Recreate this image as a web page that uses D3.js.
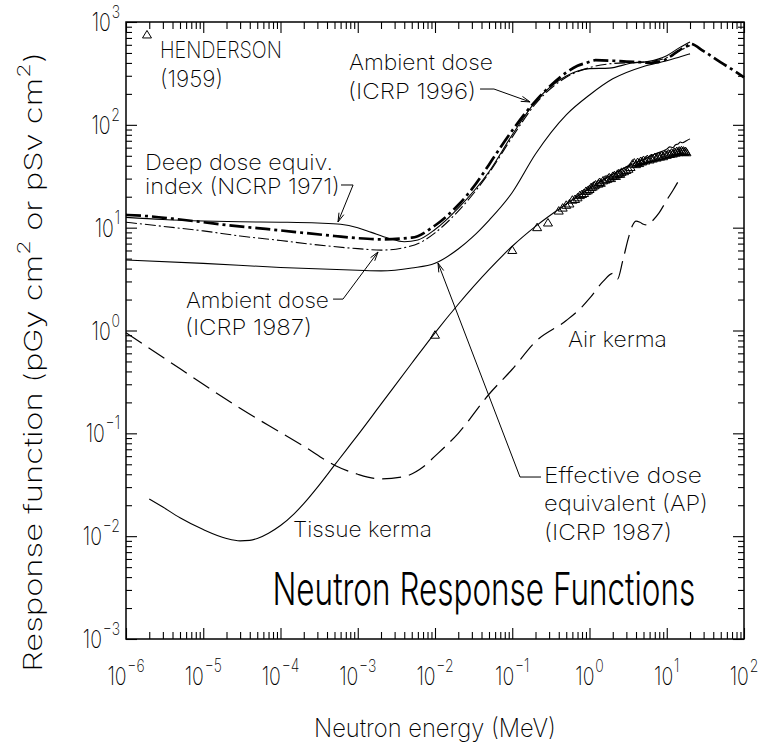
<!DOCTYPE html>
<html><head><meta charset="utf-8">
<script src="https://cdn.jsdelivr.net/npm/d3@7"></script>
<style>
body{margin:0;background:#fff}
svg{display:block}
text{font-family:Inter,Roboto,"DejaVu Sans",sans-serif;font-weight:200;fill:#000}
</style>
</head><body>
<svg id="c" width="761" height="748"></svg>
<script>
// ---------- data ----------
const xDecades = [-6,-5,-4,-3,-2,-1,0,1,2];
const yDecades = [-3,-2,-1,0,1,2,3];
const minorSteps = [2,3,4,5,6,7,8,9];
const xTickExp = ["\u22126","\u22125","\u22124","\u22123","\u22122","\u22121","0","1","2"];
const yTickExp = ["\u22123","\u22122","\u22121","0","1","2","3"];

// Ambient dose (ICRP 1996) [MeV, pSv cm2]
const ambient1996 = [[1e-6,13.3],[2e-6,12.9],[5e-6,12.0],[1e-5,11.3],[2e-5,10.6],[5e-5,9.9],[1e-4,9.4],[2e-4,8.9],[5e-4,8.3],[1e-3,7.9],[2e-3,7.7],[5e-3,8.0],[1e-2,10.5],[2e-2,16.6],[3e-2,23.7],[5e-2,41],[7e-2,60],[0.1,88],[0.15,132],[0.2,170],[0.3,233],[0.5,322],[0.7,375],[0.9,400],[1.2,425],[2,420],[3,412],[4,408],[5,405],[6,400],[7,405],[8,410],[9,420],[10,440],[12,480],[14,520],[16,555],[18,580],[20,615],[30,520],[50,405],[75,335],[100,290]];
// Deep dose equivalent index (NCRP 1971)
const ncrp1971 = [[1e-6,12.6],[3e-6,12.0],[1e-5,11.6],[3e-5,11.4],[1e-4,11.3],[3e-4,11.1],[6e-4,10.8],[1e-3,10.0],[1.5e-3,9.0],[2.5e-3,7.9],[4e-3,7.3],[6e-3,7.6],[1e-2,9.6],[2e-2,15.5],[5e-2,35],[0.1,80],[0.2,168],[0.5,298],[1,352],[1.8,356],[3.6,400],[5.6,412],[10,470],[15,570],[20,640]];
// Ambient dose (ICRP 1987)
const ambient1987 = [[1e-6,11.3],[3e-6,10.3],[1e-5,9.3],[3e-5,8.3],[1e-4,7.5],[3e-4,6.8],[1e-3,6.25],[2e-3,6.05],[4e-3,6.4],[7e-3,7.4],[1e-2,8.9],[2e-2,14.5],[5e-2,34],[0.1,76],[0.2,160],[0.5,290],[1,360],[2,395],[5,408],[10,450],[15,530],[20,590]];
// Effective dose equivalent (AP) (ICRP 1987)
const effDose1987 = [[1e-6,4.85],[1e-5,4.5],[1e-4,4.1],[1e-3,3.85],[2e-3,3.8],[5e-3,4.05],[1e-2,4.5],[2e-2,6.2],[3e-2,8.0],[5e-2,11.8],[0.1,22],[0.2,52],[0.5,125],[1,195],[2,280],[5,370],[10,420],[15,460],[20,490]];
// Tissue kerma (pGy cm2)
const tissueKerma = [[2e-6,0.023],[3e-6,0.0192],[5e-6,0.0151],[1e-5,0.0116],[2e-5,0.0095],[3e-5,0.0090],[4e-5,0.0091],[5e-5,0.0095],[7e-5,0.0107],[1e-4,0.0127],[1.5e-4,0.0165],[2e-4,0.0207],[3e-4,0.0298],[5e-4,0.049],[7e-4,0.068],[1e-3,0.096],[2e-3,0.192],[5e-3,0.48],[1e-2,0.95],[2e-2,1.8],[5e-2,3.9],[0.1,6.6],[0.2,10.3],[0.5,17],[1,24],[2,33],[3,39],[5,46],[7,52],[10,58],[11,61],[12,60],[13,64],[14,65],[15,68],[16,67],[18,70],[20,73]];
// Air kerma
const airKerma = [[1e-6,0.95],[3e-6,0.55],[1e-5,0.30],[3e-5,0.175],[1e-4,0.102],[2e-4,0.075],[5e-4,0.049],[1e-3,0.04],[2e-3,0.036],[4e-3,0.038],[7e-3,0.047],[1e-2,0.06],[2e-2,0.1],[5e-2,0.24],[0.1,0.42],[0.2,0.78],[0.5,1.25],[0.8,1.7],[1,2.05],[1.5,3.0],[2,3.6],[2.3,3.15],[2.7,4.8],[3.2,8],[3.6,10.5],[4,11.6],[4.5,11.3],[5,10.8],[5.7,10.6],[6.5,11.6],[8,14],[10,18.5],[12,23],[14,28]];
// Henderson (1959) measurements
const henderson = [[0.01,0.9],[0.1,6.0],[0.21,10.0],[0.29,11.1],[0.4,14.5],[0.45,15.5],[0.5,16.5],[0.55,17.0],[0.6,18.5],[0.65,18.8],[0.7,19.5],[0.75,20.5],[0.8,21.0],[0.85,21.5],[0.9,22.5],[0.95,22.8],[1.0,23.5],[1.05,24.5],[1.1,24.8],[1.15,25.5],[1.2,26.0],[1.3,26.5],[1.35,27.5],[1.4,27.0],[1.5,28.5],[1.6,29.0],[1.7,29.5],[1.8,30.5],[1.9,30.0],[2.0,31.5],[2.1,32.0],[2.2,31.5],[2.3,33.0],[2.4,33.5],[2.5,33.0],[2.6,34.5],[2.8,35.0],[3.0,36.0],[3.2,37.0],[3.4,38.5],[3.6,41.5],[3.8,42.5],[4.0,41.0],[4.2,43.0],[4.4,42.0],[4.6,44.0],[4.8,43.5],[5.0,45.0],[5.3,44.5],[5.6,46.0],[6.0,45.5],[6.3,47.0],[6.6,46.5],[7.0,48.0],[7.4,47.5],[7.8,49.0],[8.2,48.5],[8.6,50.0],[9.0,49.0],[9.5,51.0],[10,50.5],[10.5,52.0],[11,51.5],[11.5,53.0],[12,52.0],[12.5,54.0],[13,53.0],[13.5,55.0],[14,53.5],[14.5,55.5],[15,54.0],[15.5,56.0],[16,54.5],[16.5,55.5],[17,54.0],[17.5,55.0],[18,53.5]];

// ---------- layout ----------
const svg = d3.select("#c");
const x = d3.scaleLog().domain([1e-6,1e2]).range([126,744]);
const y = d3.scaleLog().domain([1e-3,1e3]).range([639,22]);
const [x0,x1] = x.range(), [y0,y1] = y.range();

function fitText(parent, str, px, py, size, width, anchor, weight){
  const g = parent.append("g").attr("transform",`translate(${px},${py})`);
  const t = g.append("text").attr("font-size",size).attr("text-anchor",anchor||"start").text(str);
  if (weight) t.style("font-weight",weight);
  const bb = t.node().getBBox();
  if (width) t.attr("transform",`scale(${width/bb.width},1)`);
  return t;
}

// frame
svg.append("rect").attr("x",x0).attr("y",y1).attr("width",x1-x0).attr("height",y0-y1)
  .attr("fill","none").attr("stroke","#000").attr("stroke-width",1.5);

// ticks
const xMajor = xDecades.map(d=>Math.pow(10,d));
const yMajor = yDecades.map(d=>Math.pow(10,d));
const xMinor = xDecades.slice(0,-1).flatMap(d=>minorSteps.map(k=>k*Math.pow(10,d)));
const yMinor = yDecades.slice(0,-1).flatMap(d=>minorSteps.map(k=>k*Math.pow(10,d)));
function ax(gen, tr, vals, size){
  svg.append("g").attr("transform",tr)
    .call(gen.tickValues(vals).tickSize(size).tickFormat(""))
    .call(g=>g.select(".domain").remove())
    .call(g=>g.selectAll("line").attr("stroke","#000").attr("stroke-width",1.1));
}
ax(d3.axisBottom(x),`translate(0,${y0})`,xMajor,-11);
ax(d3.axisBottom(x),`translate(0,${y0})`,xMinor,-7);
ax(d3.axisTop(x),`translate(0,${y1})`,xMajor,-11);
ax(d3.axisTop(x),`translate(0,${y1})`,xMinor,-7);
ax(d3.axisLeft(y),`translate(${x0},0)`,yMajor,-11);
ax(d3.axisLeft(y),`translate(${x0},0)`,yMinor,-6);
ax(d3.axisRight(y),`translate(${x1},0)`,yMajor,-11);
ax(d3.axisRight(y),`translate(${x1},0)`,yMinor,-6);

// tick labels
function powLabel(px, py, exp, anchor){
  const t = svg.append("text").attr("text-anchor",anchor).attr("font-size",25)
    .attr("transform",`translate(${px},${py}) scale(0.78,1)`);
  t.append("tspan").text("10");
  t.append("tspan").attr("font-size",18).attr("dy",-13).attr("dx",1).text(exp);
}
xDecades.forEach((d,i)=>powLabel(x(Math.pow(10,d)), 685, xTickExp[i], "middle"));
yDecades.forEach((d,i)=>powLabel(120, y(Math.pow(10,d))+9, yTickExp[i], "end"));

// axis titles
fitText(svg,"Neutron energy (MeV)",(x0+x1)/2,737,25,242,"middle");
{
  const g = svg.append("g").attr("transform",`translate(42,362) rotate(-90)`);
  const t = g.append("text").attr("font-size",25).attr("text-anchor","middle");
  t.append("tspan").text("Response function (pGy cm");
  t.append("tspan").attr("font-size",18).attr("dy",-12).text("2");
  t.append("tspan").attr("dy",12).text(" or pSv cm");
  t.append("tspan").attr("font-size",18).attr("dy",-12).text("2");
  t.append("tspan").attr("dy",12).text(")");
  const bb = t.node().getBBox();
  t.attr("transform",`scale(${620/bb.width},1)`);
}

// curves
const line = d3.line().x(d=>x(d[0])).y(d=>y(d[1])).curve(d3.curveMonotoneX);
const series = [
  {data:airKerma, w:1.2, dash:"19,8"},
  {data:tissueKerma, w:1.1, dash:null},
  {data:effDose1987, w:1.1, dash:null},
  {data:ambient1987, w:1.1, dash:"11,3,2,3"},
  {data:ncrp1971, w:1.1, dash:null},
  {data:ambient1996, w:2.7, dash:"15,4,3,4"}
];
series.forEach(s=>{
  svg.append("path").attr("d",line(s.data)).attr("fill","none").attr("stroke","#000")
    .attr("stroke-width",s.w).attr("stroke-dasharray",s.dash).attr("stroke-linejoin","round");
});

// Henderson triangles
const tri = "M0,-4.5L4.5,3L-4.5,3Z";
svg.append("g").selectAll("path").data(henderson).join("path")
  .attr("d",tri).attr("transform",d=>`translate(${x(d[0])},${y(d[1])})`)
  .attr("fill","none").attr("stroke","#000").attr("stroke-width",1);

// annotations (positions in data units)
const texts = [
  {t:"HENDERSON", at:[2.75e-6,442], w:122, fs:23},
  {t:"(1959)", at:[2.75e-6,233], w:63, fs:23},
  {t:"Ambient dose", at:[7.7e-4,341], w:144, fs:22},
  {t:"(ICRP 1996)", at:[7.5e-4,178], w:128, fs:22},
  {t:"Deep dose equiv.", at:[1.76e-6,36.4], w:188, fs:22},
  {t:"index (NCRP 1971)", at:[1.76e-6,21.2], w:195, fs:22},
  {t:"Ambient dose", at:[5.98e-6,1.66], w:143, fs:22},
  {t:"(ICRP 1987)", at:[5.8e-6,0.904], w:127, fs:22},
  {t:"Air kerma", at:[0.527,0.69], w:99, fs:22},
  {t:"Tissue kerma", at:[1.45e-4,0.00982], w:139, fs:22},
  {t:"Effective dose", at:[0.258,0.0329], w:158, fs:22},
  {t:"equivalent (AP)", at:[0.258,0.0176], w:164, fs:22},
  {t:"(ICRP 1987)", at:[0.258,0.00918], w:128, fs:22},
  {t:"Neutron Response Functions", at:[7.87e-5,0.00214], w:423, fs:45, wt:300}
];
texts.forEach(a=>fitText(svg,a.t,x(a.at[0]),y(a.at[1]),a.fs,a.w,"start",a.wt));

// legend marker
svg.append("path").attr("d",tri).attr("transform",`translate(${x(1.87e-6)},${y(748)})`)
  .attr("fill","none").attr("stroke","#000").attr("stroke-width",1);

// leader lines with arrowheads
const leaders = [
  [[0.0383,223],[0.058,223],[0.17,167]],
  [[6.07e-4,26.0],[8.7e-4,26.0],[5.55e-4,11.35]],
  [[4.79e-4,2.02],[6.44e-4,2.02],[1.83e-3,5.8]],
  [[0.2355,0.0376],[0.126,0.0376],[0.01094,4.53]]
];
leaders.forEach(L=>{
  const p = L.map(d=>[x(d[0]),y(d[1])]);
  svg.append("path").attr("d",d3.line()(p)).attr("fill","none").attr("stroke","#000").attr("stroke-width",1);
  const T = p[p.length-1], P = p[p.length-2];
  const dx = T[0]-P[0], dy = T[1]-P[1], L2 = Math.hypot(dx,dy);
  const ux = dx/L2, uy = dy/L2, nx = -uy, ny = ux;
  const a = [T[0]-9*ux+2.6*nx, T[1]-9*uy+2.6*ny], b = [T[0]-9*ux-2.6*nx, T[1]-9*uy-2.6*ny];
  svg.append("path").attr("d",d3.line()([a,T,b])).attr("fill","none").attr("stroke","#000").attr("stroke-width",1);
});
</script>
</body></html>
